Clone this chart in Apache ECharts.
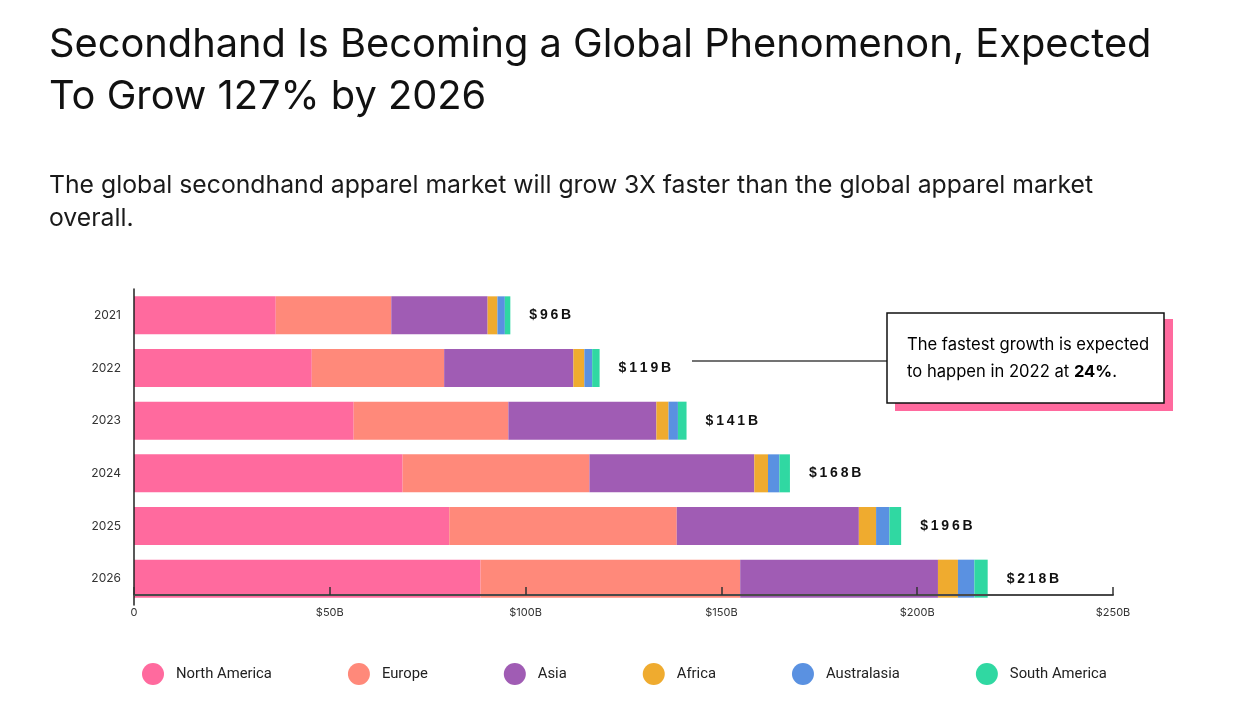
<!DOCTYPE html>
<html>
<head>
    <meta charset="UTF-8">
    <title>Secondhand market</title>
    <script src="https://cdn.jsdelivr.net/npm/echarts@6.0.0/dist/echarts.min.js"></script>
    <style>
        html, body {margin: 0; padding: 0; background: #fff;}
        #chart {width: 1241px; height: 724px;}
    </style>
</head>
<body>

<div id="chart"></div>

<script>
    // data, $B
    var years = ['2021', '2022', '2023', '2024', '2025', '2026'];
    var regions = ['North America', 'Europe', 'Asia', 'Africa', 'Australasia', 'South America'];
    var northAmerica = [36.2, 45.4, 56.1, 68.6, 80.5, 88.5];
    var europe = [29.5, 33.8, 39.5, 47.7, 58.1, 66.3];
    var asia = [24.6, 33.0, 37.8, 42.1, 46.5, 50.5];
    var africa = [2.5, 2.8, 3.1, 3.5, 4.4, 5.1];
    var australasia = [1.9, 2.0, 2.4, 2.9, 3.4, 4.2];
    var southAmerica = [1.4, 1.9, 2.2, 2.7, 3.0, 3.4];
    var totals = ['$96B', '$119B', '$141B', '$168B', '$196B', '$218B'];
    var xTicks = [0, 50, 100, 150, 200, 250];

    var colors = ['#ff6a9e', '#ff897a', '#a05cb4', '#efab2f', '#5a91e1', '#30d8a2'];
    var seriesValues = [northAmerica, europe, asia, africa, australasia, southAmerica];

    // spread the letters of the total labels a bit
    function spaced(s) {
        return s.split('').join('\u2009');
    }

    var myChart = echarts.init(document.getElementById('chart'));

    var series = regions.map(function (name, i) {
        var s = {
            name: name,
            type: 'bar',
            stack: 'total',
            barWidth: 38,
            data: seriesValues[i],
            itemStyle: {color: colors[i]},
            emphasis: {disabled: true}
        };
        if (i === regions.length - 1) {
            s.label = {
                show: true,
                position: 'right',
                distance: 19,
                fontFamily: 'Liberation Sans',
                fontWeight: 'bold',
                fontSize: 14,
                color: '#111',
                formatter: function (p) {
                    return spaced(totals[p.dataIndex]);
                }
            };
        }
        return s;
    });

    var option = {
        backgroundColor: '#fff',
        animation: false,
        textStyle: {fontFamily: 'Inter'},
        title: [{
            text: 'Secondhand Is Becoming a Global Phenomenon, Expected\nTo Grow 127% by 2026',
            left: 44,
            top: 14,
            textStyle: {
                fontFamily: 'Inter',
                fontSize: 39.8,
                fontWeight: 'normal',
                color: '#111',
                lineHeight: 52
            }
        }, {
            text: 'The global secondhand apparel market will grow 3X faster than the global apparel market\noverall.',
            left: 44,
            top: 164,
            textStyle: {
                fontFamily: 'Inter',
                fontSize: 24.75,
                fontWeight: 'normal',
                color: '#1a1a1a',
                lineHeight: 33
            }
        }],
        legend: {
            data: regions,
            left: 137,
            top: 658,
            icon: 'circle',
            itemWidth: 22,
            itemHeight: 22,
            itemGap: 76,
            selectedMode: false,
            textStyle: {
                fontFamily: 'Roboto',
                fontSize: 14.8,
                color: '#222',
                padding: [0, 0, 0, 7]
            }
        },
        grid: {
            left: 134,
            right: 128,
            top: 289,
            height: 316,
            containLabel: false
        },
        xAxis: {
            type: 'value',
            min: xTicks[0],
            max: xTicks[xTicks.length - 1],
            interval: 50,
            offset: -10,
            z: 5,
            axisLine: {show: true, lineStyle: {color: '#4a4a4a', width: 2}},
            axisTick: {show: true, inside: true, length: 8, lineStyle: {color: '#333', width: 1.5}},
            splitLine: {show: false},
            axisLabel: {
                margin: 12,
                fontSize: 11,
                color: '#333',
                formatter: function (v) {
                    return v === 0 ? '0' : '$' + v + 'B';
                }
            }
        },
        yAxis: {
            type: 'category',
            data: years,
            inverse: true,
            z: 5,
            axisLine: {show: true, onZero: false, lineStyle: {color: '#222', width: 1.5}},
            axisTick: {show: false},
            axisLabel: {margin: 13, fontSize: 12, color: '#333'}
        },
        graphic: [{
            type: 'line',
            shape: {x1: 692, y1: 361, x2: 887, y2: 361},
            style: {stroke: '#444', lineWidth: 1.5}
        }, {
            type: 'rect',
            shape: {x: 895, y: 319, width: 278, height: 92},
            style: {fill: '#ff6a9e'}
        }, {
            type: 'rect',
            shape: {x: 887, y: 313, width: 277, height: 90},
            style: {fill: '#fff', stroke: '#111', lineWidth: 1.5}
        }, {
            type: 'text',
            left: 907,
            top: 336,
            style: {
                text: '{n|The fastest growth is expected}\n{n|to happen in 2022 at }{b|24%}{n|.}',
                rich: {
                    n: {fontFamily: 'Inter', fontSize: 16.6, color: '#1a1a1a', lineHeight: 27},
                    b: {fontFamily: 'Inter', fontSize: 16.6, fontWeight: 'bold', color: '#111', lineHeight: 27}
                }
            }
        }],
        series: series
    };

    myChart.setOption(option);
</script>

</body>
</html>
